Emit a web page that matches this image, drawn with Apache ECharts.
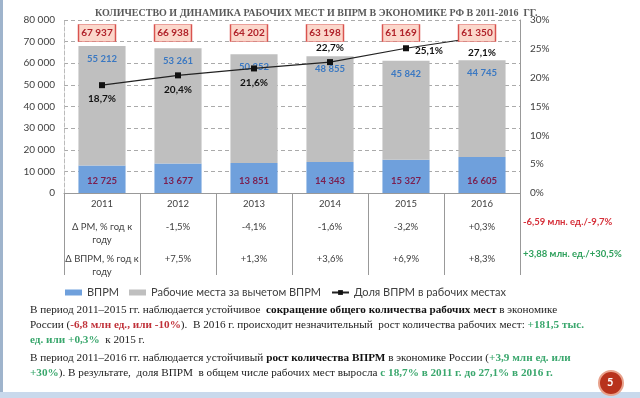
<!DOCTYPE html>
<html>
<head>
<meta charset="utf-8">
<script src="https://cdn.jsdelivr.net/npm/echarts@6/dist/echarts.min.js"></script>
<style>
  html, body { margin: 0; padding: 0; background: #fff; }
  #chart { width: 640px; height: 398px; }
</style>
</head>
<body>
<div id="chart"></div>
<script>
// данные
var years = ['2011', '2012', '2013', '2014', '2015', '2016'];
var vprm = [12725, 13677, 13851, 14343, 15327, 16605];
var restJobs = [55212, 53261, 50352, 48855, 45842, 44745];
var totals = [67937, 66938, 64202, 63198, 61169, 61350];
var share = [18.7, 20.4, 21.6, 22.7, 25.1, 27.1];
var dRM = ['Δ РМ, % год к\nгоду', '-1,5%', '-4,1%', '-1,6%', '-3,2%', '+0,3%'];
var dVPRM = ['Δ ВПРМ, % год к\nгоду', '+7,5%', '+1,3%', '+3,6%', '+6,9%', '+8,3%'];
var sharePos = ['bottom', 'bottom', 'bottom', 'top', 'right', 'bottom'];

function fmt(n) {
  return String(n).replace(/\B(?=(\d{3})+(?!\d))/g, ' ');
}
function pct(v) {
  return v.toFixed(1).replace('.', ',') + '%';
}

var sans = 'Lato';
var serif = 'Liberation Serif';
var fs = 11.2;

var myChart = echarts.init(document.getElementById('chart'));

var option = {
  backgroundColor: '#fff',
  animation: false,
  title: {
    text: 'КОЛИЧЕСТВО И ДИНАМИКА РАБОЧИХ МЕСТ И ВПРМ В ЭКОНОМИКЕ РФ В 2011-2016  ГГ.',
    left: 90,
    top: 3,
    textStyle: { fontFamily: serif, fontSize: 10, fontWeight: 'bold', color: '#595959' }
  },
  grid: { left: 64, right: 120, top: 20, bottom: 205 },
  legend: {
    left: 60,
    top: 282,
    itemWidth: 17,
    itemHeight: 6,
    itemGap: 10,
    textStyle: { fontFamily: sans, fontSize: 11, color: '#404040' },
    data: [
      { name: 'ВПРМ', icon: 'rect' },
      { name: 'Рабочие места за вычетом ВПРМ', icon: 'rect' },
      { name: 'Доля ВПРМ в рабочих местах' }
    ]
  },
  xAxis: [
    {
      type: 'category',
      data: years,
      axisLine: { show: true, lineStyle: { color: '#999' } },
      axisTick: { show: true, length: 82, interval: 0, lineStyle: { color: '#999' } },
      axisLabel: { margin: 6, fontFamily: sans, fontSize: 9.5, color: '#404040' }
    },
    {
      type: 'category',
      data: dRM,
      position: 'bottom',
      offset: 19,
      axisLine: { show: false },
      axisTick: { show: false },
      axisLabel: { interval: 0, fontFamily: sans, fontSize: 9.5, color: '#404040', lineHeight: 13 }
    },
    {
      type: 'category',
      data: dVPRM,
      position: 'bottom',
      offset: 51,
      axisLine: { show: false },
      axisTick: { show: false },
      axisLabel: { interval: 0, fontFamily: sans, fontSize: 9.5, color: '#404040', lineHeight: 13 }
    }
  ],
  yAxis: [
    {
      type: 'value',
      min: 0,
      max: 80000,
      interval: 10000,
      axisLine: { show: true, lineStyle: { color: '#bbb', type: 'dashed' } },
      axisTick: { show: false },
      splitLine: { lineStyle: { color: '#aaa', type: [4, 3] } },
      axisLabel: {
        margin: 9,
        fontFamily: sans,
        fontSize: 10,
        color: '#404040',
        formatter: function (v) { return fmt(v); }
      }
    },
    {
      type: 'value',
      min: 0,
      max: 0.3,
      interval: 0.05,
      axisLine: { show: true, lineStyle: { color: '#999' } },
      axisTick: { show: false },
      splitLine: { show: false },
      axisLabel: {
        margin: 10,
        fontFamily: sans,
        fontSize: 10,
        color: '#404040',
        formatter: function (v) { return Math.round(v * 100) + '%'; }
      }
    }
  ],
  series: [
    {
      name: 'ВПРМ',
      type: 'bar',
      stack: 'jobs',
      barWidth: '62%',
      itemStyle: { color: '#6fa0dc' },
      label: {
        show: true,
        position: 'insideBottom',
        distance: 7,
        fontFamily: sans,
        fontSize: 9.5,
        fontWeight: 'bold',
        color: '#7b2050',
        formatter: function (p) { return fmt(p.value); }
      },
      data: vprm
    },
    {
      name: 'Рабочие места за вычетом ВПРМ',
      type: 'bar',
      stack: 'jobs',
      itemStyle: { color: '#bfbfbf' },
      label: {
        show: true,
        position: 'insideTop',
        distance: 8,
        fontFamily: sans,
        fontSize: 9.5,
        fontWeight: 'bold',
        color: '#3a78c2',
        formatter: function (p) { return fmt(p.value); }
      },
      data: restJobs
    },
    {
      name: 'Доля ВПРМ в рабочих местах',
      type: 'line',
      yAxisIndex: 1,
      z: 3,
      symbol: 'rect',
      symbolSize: 6,
      lineStyle: { color: '#222', width: 1.2 },
      itemStyle: { color: '#111' },
      data: share.map(function (v, i) {
        return {
          value: v / 100,
          label: {
            position: sharePos[i],
            distance: i === 5 ? 8 : 6,
            offset: i === 4 ? [0, 3] : [0, 0]
          }
        };
      }),
      label: {
        show: true,
        fontFamily: sans,
        fontSize: 10,
        fontWeight: 'bold',
        color: '#111',
        formatter: function (p) { return pct(share[p.dataIndex]); }
      }
    },
    {
      // рамки с общим числом рабочих мест
      name: 'totals',
      type: 'scatter',
      z: 10,
      symbol: 'rect',
      symbolSize: [37, 17],
      symbolOffset: [-5, 0],
      silent: true,
      itemStyle: { color: '#fbd7cb', borderColor: '#d9534f', borderWidth: 1, opacity: 1 },
      data: totals.map(function (t, i) { return [years[i], 74000]; }),
      label: {
        show: true,
        position: 'inside',
        fontFamily: sans,
        fontSize: 10,
        fontWeight: 'bold',
        color: '#b0222a',
        formatter: function (p) { return fmt(totals[p.dataIndex]); }
      }
    }
  ],
  graphic: [
    { type: 'rect', left: 0, top: 0, shape: { width: 3, height: 398 }, style: { fill: '#9fb4cc' } },
    { type: 'rect', left: 0, top: 392, shape: { width: 640, height: 6 }, style: { fill: '#c9d9ec' } },
    {
      type: 'text', left: 523, top: 217,
      style: { text: '-6,59 млн. ед./-9,7%', fontFamily: sans, fontSize: 9.5, fontWeight: 'bold', fill: '#d6303a' }
    },
    {
      type: 'text', left: 523, top: 249,
      style: { text: '+3,88 млн. ед./+30,5%', fontFamily: sans, fontSize: 9.5, fontWeight: 'bold', fill: '#2ea05c' }
    },
    {
      type: 'text', left: 30, top: 303,
      style: {
        text: 'В период 2011–2015 гг. наблюдается устойчивое  {b|сокращение общего количества рабочих мест} в экономике\n' +
              'России ({r|-6,8 млн ед., или -10%}).  В 2016 г. происходит незначительный  рост количества рабочих мест: {g|+181,5 тыс.}\n' +
              '{g|ед. или +0,3%}  к 2015 г.',
        fontFamily: serif, fontSize: fs, fill: '#222', lineHeight: 15,
        rich: {
          b: { fontFamily: serif, fontSize: fs, fontWeight: 'bold', fill: '#111', lineHeight: 15 },
          r: { fontFamily: serif, fontSize: fs, fontWeight: 'bold', fill: '#c0323a', lineHeight: 15 },
          g: { fontFamily: serif, fontSize: fs, fontWeight: 'bold', fill: '#3aa76d', lineHeight: 15 }
        }
      }
    },
    {
      type: 'text', left: 30, top: 351,
      style: {
        text: 'В период 2011–2016 гг. наблюдается устойчивый {b|рост количества ВПРМ} в экономике России ({g|+3,9 млн ед. или}\n' +
              '{g|+30%}). В результате,  доля ВПРМ  в общем числе рабочих мест выросла {g|с 18,7% в 2011 г. до 27,1% в 2016 г.}',
        fontFamily: serif, fontSize: fs, fill: '#222', lineHeight: 15,
        rich: {
          b: { fontFamily: serif, fontSize: fs, fontWeight: 'bold', fill: '#111', lineHeight: 15 },
          g: { fontFamily: serif, fontSize: fs, fontWeight: 'bold', fill: '#3aa76d', lineHeight: 15 }
        }
      }
    },
    {
      type: 'circle', shape: { cx: 611, cy: 383, r: 12 },
      style: { fill: '#b8321c', stroke: '#e8a28c', lineWidth: 2 }
    },
    {
      type: 'text', left: 607, top: 377,
      style: { text: '5', fontFamily: sans, fontSize: 11, fontWeight: 'bold', fill: '#fff' }
    }
  ]
};

myChart.setOption(option);
</script>
</body>
</html>
